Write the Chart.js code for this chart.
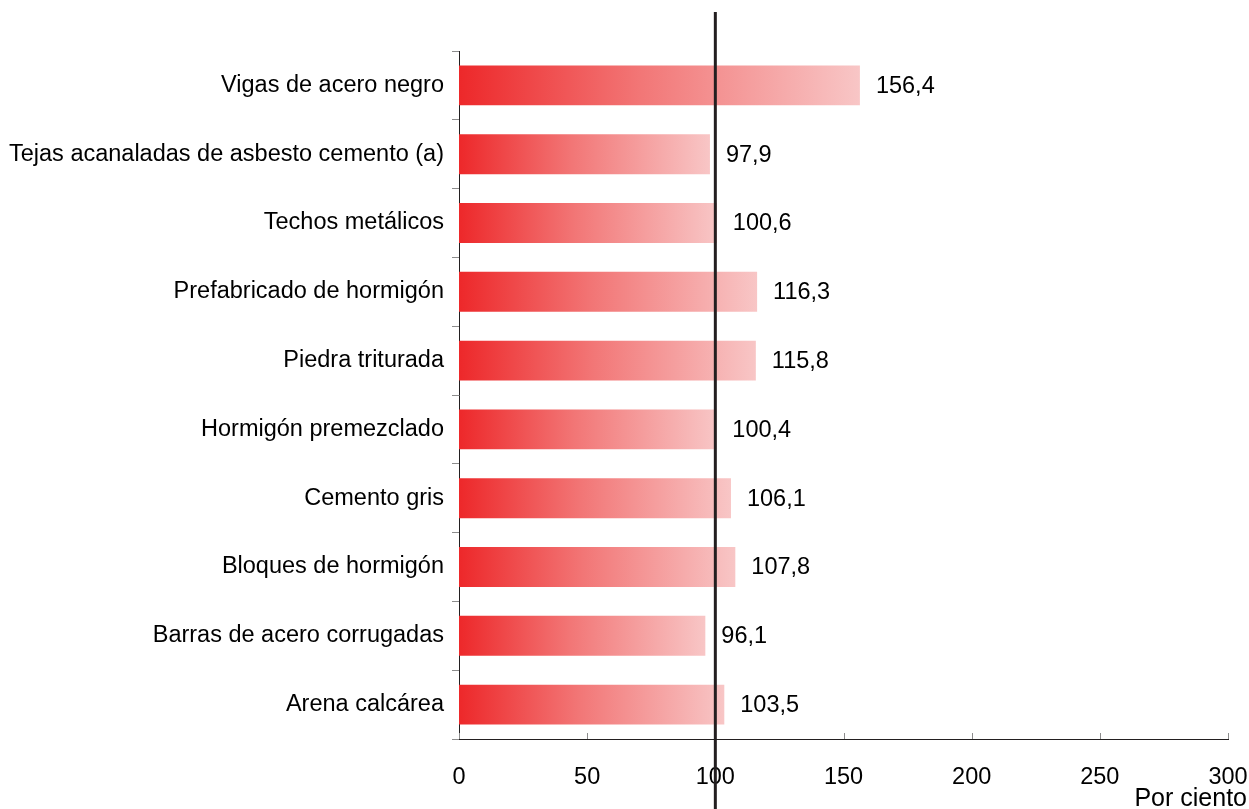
<!DOCTYPE html>
<html>
<head>
<meta charset="utf-8">
<script src="https://cdn.jsdelivr.net/npm/chart.js@4/dist/chart.umd.min.js"></script>
<style>
  html, body { margin: 0; padding: 0; background: #fff; }
  #wrap { width: 1249px; height: 809px; }
</style>
</head>
<body>
<div id="wrap"><canvas id="grafico" width="1249" height="809"></canvas></div>
<script>
// Datos del gráfico
const categorias = [
    "Vigas de acero negro",
    "Tejas acanaladas de asbesto cemento (a)",
    "Techos metálicos",
    "Prefabricado de hormigón",
    "Piedra triturada",
    "Hormigón premezclado",
    "Cemento gris",
    "Bloques de hormigón",
    "Barras de acero corrugadas",
    "Arena calcárea"
];
const valores = [156.4, 97.9, 100.6, 116.3, 115.8, 100.4, 106.1, 107.8, 96.1, 103.5];
const ticksX = [0, 50, 100, 150, 200, 250, 300];
const lineaReferencia = 100;

const fuente = "'Liberation Sans', Arial, sans-serif";
const tamFuente = 23.5;

// Degradado por barra, de rojo a rosa claro
function colorBarra(ctx) {
    const chart = ctx.chart;
    const area = chart.chartArea;
    if (!area || ctx.dataIndex === undefined) return "#ee2d2d";
    const x = chart.scales.x;
    const x0 = x.getPixelForValue(0);
    const x1 = x.getPixelForValue(valores[ctx.dataIndex]);
    const g = chart.ctx.createLinearGradient(x0, 0, x1, 0);
    g.addColorStop(0, "rgb(237,40,42)");
    g.addColorStop(0.45, "rgb(242,118,118)");
    g.addColorStop(1, "rgb(248,198,198)");
    return g;
}

const extras = {
    id: "extras",
    afterDatasetsDraw(chart) {
        const { ctx, chartArea, scales } = chart;
        ctx.save();
        // marcas del eje X hacia dentro
        ctx.strokeStyle = "#8c8c8c";
        ctx.lineWidth = 1;
        ticksX.forEach(v => {
            const px = Math.round(scales.x.getPixelForValue(v)) + 0.5;
            ctx.beginPath();
            ctx.moveTo(px, chartArea.bottom);
            ctx.lineTo(px, chartArea.bottom - 6);
            ctx.stroke();
        });
        // etiquetas de valor
        ctx.fillStyle = "#000";
        ctx.font = tamFuente + "px " + fuente;
        ctx.textAlign = "left";
        ctx.textBaseline = "middle";
        const meta = chart.getDatasetMeta(0);
        meta.data.forEach((bar, i) => {
            ctx.fillText(valores[i].toFixed(1).replace(".", ","), bar.x + 16, bar.y + 1);
        });
        // línea vertical en 100
        const lx = scales.x.getPixelForValue(lineaReferencia);
        ctx.strokeStyle = "#231f20";
        ctx.lineWidth = 3;
        ctx.beginPath();
        ctx.moveTo(lx, 12);
        ctx.lineTo(lx, chart.height);
        ctx.stroke();
        // título del eje
        ctx.fillStyle = "#000";
        ctx.font = "25px " + fuente;
        ctx.textAlign = "right";
        ctx.textBaseline = "alphabetic";
        ctx.fillText("Por ciento", 1247, 806);
        ctx.restore();
    }
};

new Chart(document.getElementById("grafico").getContext("2d"), {
    type: "bar",
    data: {
        labels: categorias,
        datasets: [{
            data: valores,
            backgroundColor: colorBarra,
            borderWidth: 0,
            barPercentage: 0.58,
            categoryPercentage: 1
        }]
    },
    options: {
        indexAxis: "y",
        responsive: false,
        animation: false,
        layout: { padding: { top: 51, right: 21, left: 0, bottom: 0 } },
        plugins: { legend: { display: false }, tooltip: { enabled: false } },
        scales: {
            x: {
                min: 0,
                max: 300,
                afterBuildTicks: s => { s.ticks = ticksX.map(v => ({ value: v })); },
                afterFit: s => { s.height = 70; s.paddingLeft = 0; s.paddingRight = 0; },
                grid: { display: false, drawTicks: false },
                border: { display: true, color: "#231f20", width: 1 },
                ticks: {
                    color: "#000",
                    padding: 24,
                    maxRotation: 0,
                    font: { family: fuente, size: tamFuente }
                }
            },
            y: {
                afterFit: s => { s.width = 459; s.paddingTop = 0; s.paddingBottom = 0; },
                grid: {
                    offset: true,
                    drawOnChartArea: false,
                    drawTicks: true,
                    tickLength: 7,
                    color: "#8c8c8c"
                },
                border: { display: true, color: "#231f20", width: 1 },
                ticks: {
                    color: "#000",
                    padding: 8,
                    font: { family: fuente, size: tamFuente }
                }
            }
        }
    },
    plugins: [extras]
});
</script>
</body>
</html>
